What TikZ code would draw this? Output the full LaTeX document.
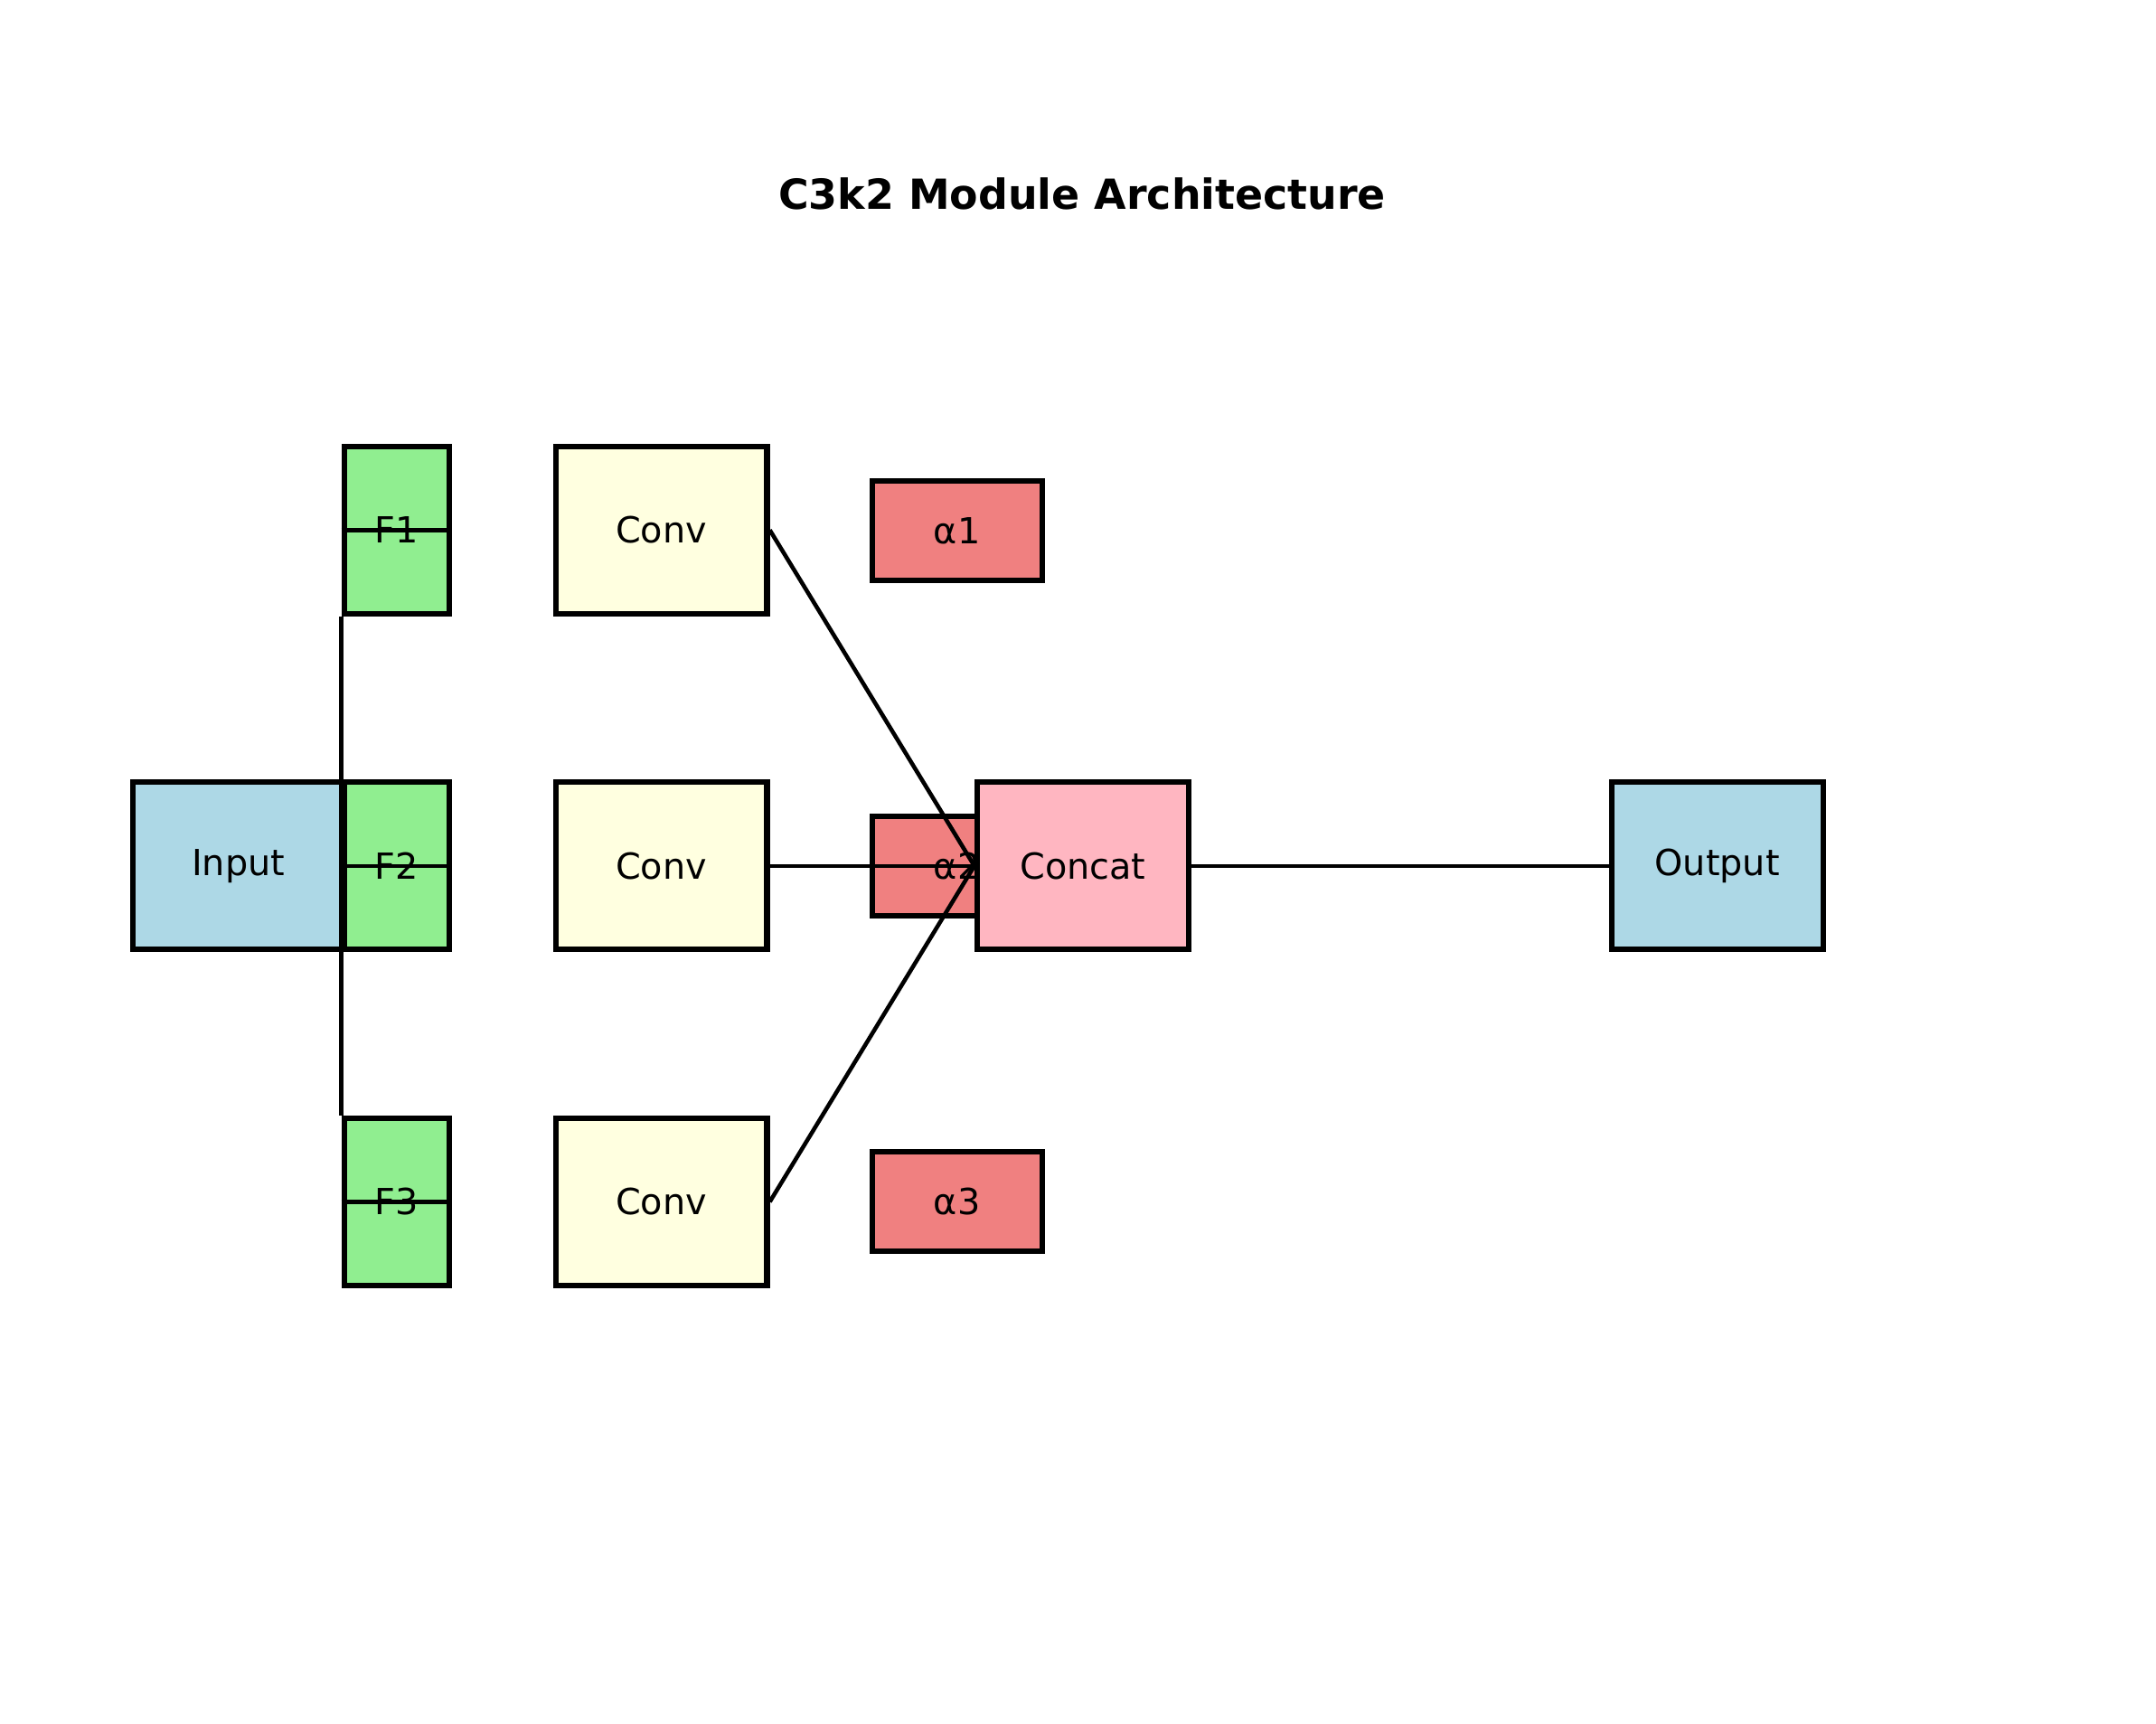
\documentclass[tikz,border=0pt]{standalone}
\usepackage{fontspec}
\setmainfont{DejaVu Sans}
\definecolor{lblue}{RGB}{173,216,230}
\definecolor{lgreen}{RGB}{144,238,144}
\definecolor{lyellow}{RGB}{255,255,224}
\definecolor{lcoral}{RGB}{240,128,128}
\definecolor{lpink}{RGB}{255,182,193}
\begin{document}
\begin{tikzpicture}[x=0.5pt,y=-0.5pt,
  box/.style={draw=black,line width=2pt,inner sep=0pt,font=\fontsize{13}{15}\selectfont},
  big/.style={box,minimum width=76.5pt,minimum height=60.5pt},
  fb/.style={box,fill=lgreen,minimum width=38pt,minimum height=60.5pt},
  ab/.style={box,fill=lcoral,minimum width=61.5pt,minimum height=36pt},
  ln/.style={line width=1.5pt}]
\useasboundingbox (0,0) rectangle (1560,1247);
\node[font=\bfseries\fontsize{15}{18}\selectfont] (title) at (783,140) {C3k2 Module Architecture};
\node[big,fill=lblue] (in) at (172.5,626.5) {Input};
\node[fb] (f1) at (287,383.5) {F1};
\node[fb] (f2) at (287,626.5) {F2};
\node[fb] (f3) at (287,869.5) {F3};
\node[big,fill=lyellow] (c1) at (478.5,383.5) {Conv};
\node[big,fill=lyellow] (c2) at (478.5,626.5) {Conv};
\node[big,fill=lyellow] (c3) at (478.5,869.5) {Conv};
\node[ab] (a1) at (692.5,384) {α1};
\node[ab] (a2) at (692.5,626.5) {α2};
\node[ab] (a3) at (692.5,869.5) {α3};
\node[big,fill=lblue] (out) at (1242.5,626.5) {Output};
\draw[ln] (f1.south west) -- (f3.north west);
\draw[ln] (f1.west) -- (f1.east);
\draw[ln] (f2.west) -- (f2.east);
\draw[ln] (f3.west) -- (f3.east);
\node[big,fill=lpink] (cat) at (783.5,626.5) {Concat};
\draw[ln] (c1.east) -- (cat.west);
\draw[ln] (c2.east) -- (cat.west);
\draw[ln] (c3.east) -- (cat.west);
\draw[ln] (cat.east) -- (out.west);
\end{tikzpicture}
\end{document}
